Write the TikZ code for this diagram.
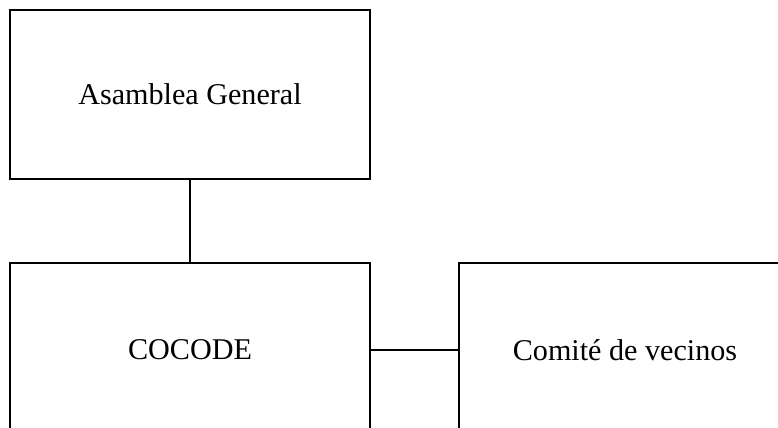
\documentclass[tikz,border=0pt]{standalone}
\usepackage{fontspec}
\setmainfont{Liberation Serif}
\usepackage{tikz}
\usetikzlibrary{calc}
\tikzset{every picture/.style={line width=1.8pt}}
\tikzset{orgbox/.style={draw, rectangle, inner sep=0.75pt, font=\fontsize{22.6}{27}\selectfont}}

\begin{document}
\begin{tikzpicture}[x=0.75pt,y=0.75pt,yscale=-1,xscale=1]
\useasboundingbox (0,0) rectangle (778,428);
\clip (0,0) rectangle (778,428);

%Shape: Rectangle [id:asamblea]
\node [orgbox, minimum width=270pt, minimum height=126.75pt] (asamblea) at (190,94.5) {Asamblea General};
%Shape: Rectangle [id:cocode]
\node [orgbox, minimum width=270pt, minimum height=130.5pt] (cocode) at (190,350) {COCODE};
%Shape: Rectangle [id:comite]
\node [orgbox, minimum width=249pt, minimum height=130.5pt] (comite) at (625,350) {Comité de vecinos};

%Straight Lines
\draw (asamblea.south) -- (cocode.north) ;
%Straight Lines
\draw (cocode.east) -- (comite.west) ;

\end{tikzpicture}
\end{document}
